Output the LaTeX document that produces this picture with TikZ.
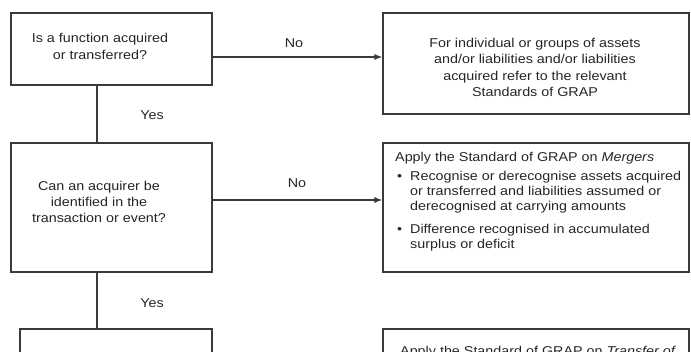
\documentclass[tikz,border=0pt]{standalone}
\usepackage{fontspec}
\setmainfont{Liberation Sans}[FakeStretch=1.12]
\usetikzlibrary{arrows.meta}
\definecolor{ln}{HTML}{3A3A3A}
\definecolor{tx}{HTML}{262626}
\tikzset{
  box/.style={draw=ln, line width=1.2pt, rectangle, inner sep=0pt},
  txt/.style={text=tx, font=\fontsize{12.8}{16.3}\selectfont, inner sep=0pt, align=center},
  ltxt/.style={text=tx, font=\fontsize{12.8}{16.3}\selectfont, inner sep=0pt, anchor=base west},
  conn/.style={draw=ln, line width=1.1pt},
  arr/.style={conn, -{Latex[length=8pt,width=6pt]}}
}
\begin{document}
\begin{tikzpicture}[x=1pt,y=-1pt]
\useasboundingbox (0,0) rectangle (691,352);
\clip (0,0) rectangle (691,352);
\fill[white] (0,0) rectangle (691,352);
% boxes
\node[box, minimum width=201pt, minimum height=72pt] (q1) at (111.5,49) {};
\node[box, minimum width=306pt, minimum height=101pt] (r1) at (536,63.5) {};
\node[box, minimum width=201pt, minimum height=129pt] (q2) at (111.5,207.5) {};
\node[box, minimum width=306pt, minimum height=129pt] (r2) at (536,207.5) {};
\node[box, minimum width=192pt, minimum height=91pt] (q3) at (116,374.5) {};
\node[box, minimum width=306pt, minimum height=91pt] (r3) at (536,374.5) {};
% texts
\node[txt] (t1) at (100,46.5) {Is a function acquired\\or transferred?};
\node[txt] (t2) at (99,202) {Can an acquirer be\\identified in the\\transaction or event?};
\node[txt] (t3) at (535,67.5) {For individual or groups of assets\\and/or liabilities and/or liabilities\\acquired refer to the relevant\\Standards of GRAP};
\node[ltxt] (m0) at (395,162) {Apply the Standard of GRAP on \textit{Mergers}};
\node[ltxt] (b1) at (397,181) {\textbullet};
\node[ltxt] (m1) at (410,181) {Recognise or derecognise assets acquired};
\node[ltxt] (m2) at (410,196) {or transferred and liabilities assumed or};
\node[ltxt] (m3) at (410,211) {derecognised at carrying amounts};
\node[ltxt] (b2) at (397,234) {\textbullet};
\node[ltxt] (m4) at (410,234) {Difference recognised in accumulated};
\node[ltxt] (m5) at (410,249) {surplus or deficit};
\node[ltxt] (t5) at (400,356) {Apply the Standard of GRAP on \textit{Transfer of}};
% labels
\node[txt] (no1) at (294,43) {No};
\node[txt] (no2) at (297,183) {No};
\node[txt] (yes1) at (152,115) {Yes};
\node[txt] (yes2) at (152,303) {Yes};
% connectors
\coordinate (y1) at (0,57);
\coordinate (y2) at (0,200);
\coordinate (vx) at (97,0);
\draw[arr] (q1.east |- y1) -- (r1.west |- y1);
\draw[arr] (q2.east |- y2) -- (r2.west |- y2);
\draw[conn] (q1.south -| vx) -- (q2.north -| vx);
\draw[conn] (q2.south -| vx) -- (q3.north -| vx);
\end{tikzpicture}
\end{document}
